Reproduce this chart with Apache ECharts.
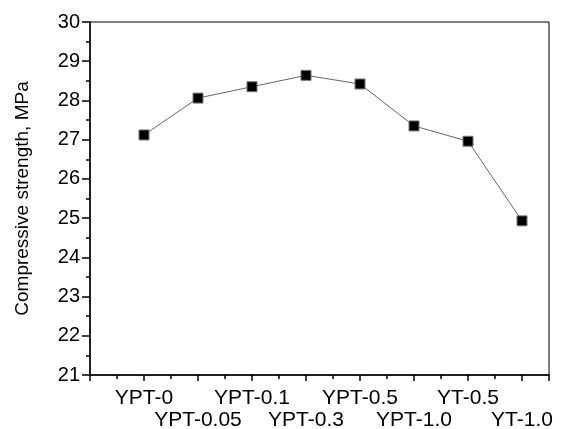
<!DOCTYPE html>
<html>
<head>
<meta charset="utf-8">
<script src="https://cdn.jsdelivr.net/npm/echarts@6/dist/echarts.min.js"></script>
<style>
  html, body { margin: 0; padding: 0; background: #fff; }
  #chart { width: 563px; height: 429px; }
</style>
</head>
<body>
<div id="chart"></div>
<script>
const samples = ['YPT-0', 'YPT-0.05', 'YPT-0.1', 'YPT-0.3', 'YPT-0.5', 'YPT-1.0', 'YT-0.5', 'YT-1.0']
const strength = [27.12, 28.06, 28.35, 28.64, 28.42, 27.35, 26.96, 24.93]

const chart = echarts.init(document.getElementById('chart'))

// samples sit at x = 1..8 on a numeric axis so the half ticks can be drawn
const data = strength.map((v, i) => [i + 1, v])
const font = 'Liberation Sans, Arial, sans-serif'

const option = {
  backgroundColor: '#fff',
  animation: false,
  grid: {
    left: 90,
    top: 22,
    right: 14,
    bottom: 54,
    outerBoundsMode: 'none',
    show: true,
    borderColor: '#000',
    borderWidth: 1
  },
  xAxis: [{
    type: 'value',
    min: 0,
    max: 8.5,
    interval: 1,
    splitLine: {show: false},
    axisLine: {lineStyle: {color: '#000', width: 1.5}},
    axisTick: {length: 6, lineStyle: {color: '#000', width: 1.5}},
    axisLabel: {
      color: '#000',
      fontFamily: font,
      fontSize: 21,
      margin: 12,
      lineHeight: 22,
      showMinLabel: true,
      showMaxLabel: true,
      formatter(val) {
        const i = Math.round(val) - 1
        if (val !== Math.round(val) || i < 0 || i >= samples.length) {
          return ''
        }
        return i % 2 === 0 ? samples[i] : '\n' + samples[i]
      }
    }
  }, {
    // minor ticks at the half steps
    type: 'value',
    position: 'bottom',
    min: 0,
    max: 8.5,
    interval: 0.5,
    splitLine: {show: false},
    axisLine: {show: false},
    axisTick: {length: 4, lineStyle: {color: '#000', width: 1.5}},
    axisLabel: {show: false}
  }],
  yAxis: {
    type: 'value',
    min: 21,
    max: 30,
    interval: 1,
    name: 'Compressive strength, MPa',
    nameLocation: 'middle',
    nameGap: 58,
    nameTextStyle: {color: '#000', fontFamily: font, fontSize: 19},
    splitLine: {show: false},
    axisLine: {show: true, lineStyle: {color: '#000', width: 1.5}},
    axisTick: {length: 8, lineStyle: {color: '#000', width: 1.5}},
    minorTick: {show: true, splitNumber: 2, length: 4, lineStyle: {color: '#000', width: 1.5}},
    axisLabel: {color: '#000', fontFamily: font, fontSize: 20, margin: 10}
  },
  series: [{
    type: 'line',
    data,
    symbol: 'rect',
    symbolSize: 10,
    lineStyle: {color: '#666', width: 1},
    itemStyle: {color: '#000', borderColor: '#777', borderWidth: 1}
  }]
}

chart.setOption(option)
</script>
</body>
</html>
